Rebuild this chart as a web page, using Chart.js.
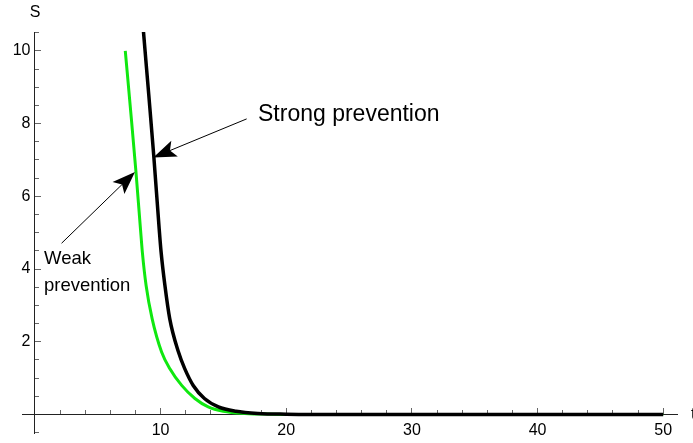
<!DOCTYPE html>
<html><head><meta charset="utf-8">
<script src="https://cdn.jsdelivr.net/npm/chart.js@4"></script>
<style>html,body{margin:0;padding:0;background:#fff;}canvas{display:block;}</style>
</head><body>
<canvas id="c" width="693" height="443"></canvas>
<script>
// ---- data ----
const strongT = [8.44, 8.64, 9.06, 9.46, 9.89, 10.04, 10.34, 10.73, 11.41, 11.92, 12.61, 13.49, 14.60, 16.0, 17.75, 20, 25, 30, 40, 50];
const strongS = [11.4, 10.52, 8.79, 7.10, 5.10, 4.47, 3.56, 2.63, 1.73, 1.26, 0.79, 0.44, 0.21, 0.09, 0.03, 0.01, 0, 0, 0, 0];
const weakT = [7.19, 7.61, 8.04, 8.40, 8.55, 8.85, 9.33, 10.08, 10.74, 11.68, 12.73, 13.79, 14.99, 16.71, 19, 22, 30, 40, 50];
const weakS = [10.0, 8.38, 6.67, 5.10, 4.46, 3.54, 2.63, 1.72, 1.26, 0.80, 0.44, 0.21, 0.09, 0.03, 0.01, 0, 0, 0, 0];
const xTickLabels = [10, 20, 30, 40, 50];
const yTickLabels = [2, 4, 6, 8, 10];
const xAxisLabel = 't';
const yAxisLabel = 'S';
const strongLabel = 'Strong prevention';
const weakLabel = ['Weak', 'prevention'];

const FONT = '"Liberation Sans", Arial, sans-serif';
const toXY = (xs, ys) => xs.map((x, i) => ({x: x, y: ys[i]}));

const annotations = {
  arrows: [
    {from: [16.85, 8.13], to: [9.42, 7.07]},
    {from: [2.12, 4.71], to: [7.96, 6.67]}
  ]
};

function drawArrow(ctx, x1, y1, x2, y2) {
  const ang = Math.atan2(y2 - y1, x2 - x1);
  const L = 23, W = 8.5, N = 5;
  ctx.beginPath();
  ctx.moveTo(x1, y1);
  ctx.lineTo(x2 - Math.cos(ang) * (L - N), y2 - Math.sin(ang) * (L - N));
  ctx.lineWidth = 1;
  ctx.strokeStyle = '#000';
  ctx.stroke();
  ctx.save();
  ctx.translate(x2, y2);
  ctx.rotate(ang);
  ctx.beginPath();
  ctx.moveTo(0, 0);
  ctx.lineTo(-L, -W);
  ctx.lineTo(-L + N, 0);
  ctx.lineTo(-L, W);
  ctx.closePath();
  ctx.fillStyle = '#000';
  ctx.fill();
  ctx.restore();
}

const annoPlugin = {
  id: 'anno',
  afterDatasetsDraw(chart) {
    const ctx = chart.ctx;
    const sx = chart.scales.x, sy = chart.scales.y;
    ctx.save();
    annotations.arrows.forEach(a => {
      drawArrow(ctx, sx.getPixelForValue(a.from[0]), sy.getPixelForValue(a.from[1]),
                sx.getPixelForValue(a.to[0]), sy.getPixelForValue(a.to[1]));
    });
    ctx.fillStyle = '#000';
    ctx.textAlign = 'left';
    ctx.textBaseline = 'alphabetic';
    ctx.font = '23px ' + FONT;
    ctx.fillText(strongLabel, 258, 121);
    ctx.font = '18.5px ' + FONT;
    ctx.fillText(weakLabel[0], 44, 264);
    ctx.fillText(weakLabel[1], 44, 291);
    ctx.font = '16px ' + FONT;
    ctx.textAlign = 'center';
    ctx.fillText(yAxisLabel, 35, 17);
    ctx.textAlign = 'left';
    ctx.fillText(xAxisLabel, 691, 419);
    ctx.restore();
  }
};

const X_MIN = -1.03, X_MAX = 51.1, Y_MIN = -0.52, Y_MAX = 10.52;
const tickFont = {family: FONT, size: 16};

new Chart(document.getElementById('c'), {
  type: 'scatter',
  data: {
    datasets: [
      {label: 'Strong prevention', data: toXY(strongT, strongS), showLine: true, borderColor: '#000', borderWidth: 3.5,
       pointRadius: 0, cubicInterpolationMode: 'monotone', fill: false},
      {label: 'Weak prevention', data: toXY(weakT, weakS), showLine: true, borderColor: 'rgb(16,232,16)', borderWidth: 3,
       pointRadius: 0, cubicInterpolationMode: 'monotone', fill: false}
    ]
  },
  options: {
    responsive: false,
    animation: false,
    devicePixelRatio: 1,
    layout: {padding: {left: 22, right: 16, top: 32, bottom: 8}},
    plugins: {legend: {display: false}, tooltip: {enabled: false}},
    scales: {
      x: {
        type: 'linear', min: X_MIN, max: X_MAX, position: {y: 0},
        border: {display: true, color: '#222', width: 1},
        grid: {drawOnChartArea: false, drawTicks: true, tickLength: -7, color: '#666', tickColor: '#666'},
        ticks: {stepSize: 10, includeBounds: false, maxRotation: 0, autoSkip: false, padding: 14, color: '#000', font: tickFont,
          callback: v => xTickLabels.includes(v) ? String(v) : ''}
      },
      x2: {
        type: 'linear', axis: 'x', min: X_MIN, max: X_MAX, position: {y: 0},
        border: {display: false},
        grid: {drawOnChartArea: false, drawTicks: true, tickLength: -4, color: '#666', tickColor: '#666'},
        ticks: {display: false, stepSize: 2, includeBounds: false, autoSkip: false}
      },
      y: {
        type: 'linear', min: Y_MIN, max: Y_MAX, position: {x: 0},
        border: {display: true, color: '#222', width: 1},
        grid: {drawOnChartArea: false, drawTicks: true, tickLength: -7, color: '#666', tickColor: '#666'},
        ticks: {stepSize: 2, includeBounds: false, autoSkip: false, padding: 0, color: '#000', font: tickFont,
          callback: v => yTickLabels.includes(v) ? String(v) + ' ' : ''}
      },
      y2: {
        type: 'linear', axis: 'y', min: Y_MIN, max: Y_MAX, position: {x: 0},
        border: {display: false},
        grid: {drawOnChartArea: false, drawTicks: true, tickLength: -4, color: '#666', tickColor: '#666'},
        ticks: {display: false, stepSize: 0.5, includeBounds: false, autoSkip: false}
      }
    }
  },
  plugins: [annoPlugin]
});
</script>
</body></html>
